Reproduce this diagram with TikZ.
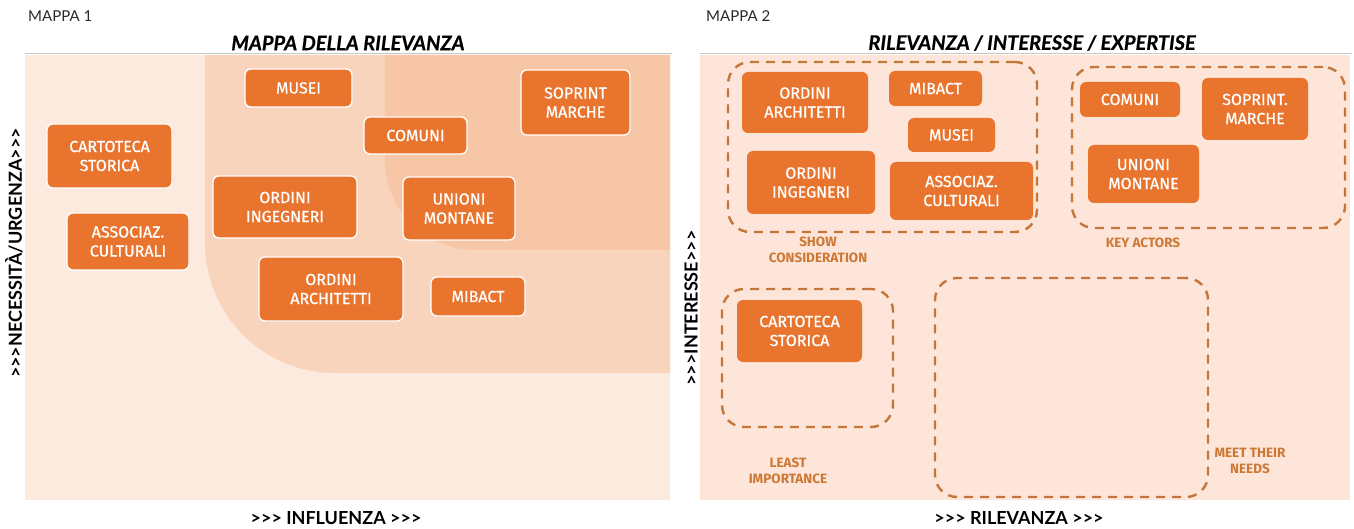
\documentclass[tikz,border=0pt]{standalone}
\usepackage{fontspec}
\setmainfont{Fira Sans}
\newfontfamily\headfont{Lato}
\newfontfamily\titlefont[FakeBold=0.6]{Lato}
\newfontfamily\actorfont[FakeBold=0.7]{Fira Sans}
\usetikzlibrary{positioning}
\definecolor{actorfill}{RGB}{233,116,46}
\definecolor{panelbg}{RGB}{253,230,217}
\definecolor{panellight}{RGB}{253,234,223}
\definecolor{panelmid}{RGB}{249,212,189}
\definecolor{paneldark}{RGB}{246,198,166}
\definecolor{grpline}{RGB}{196,118,58}
\definecolor{grptext}{RGB}{205,120,52}
\definecolor{rulegray}{RGB}{200,200,200}
\definecolor{inkgray}{RGB}{40,40,40}

\begin{document}
\begin{tikzpicture}[x=1pt,y=-1pt,
    actor/.style={draw=white,line width=1.3pt,fill=actorfill,rounded corners=6pt,text=white,align=center,inner sep=0pt,font=\actorfont\fontsize{16}{19}\selectfont},
    actorflat/.style={actor,draw=none},
    grpbox/.style={draw=grpline,line width=2.4pt,dash pattern=on 9pt off 7pt,rounded corners=22pt,inner sep=0pt},
    grplabel/.style={text=grptext,align=center,inner sep=0pt,font=\bfseries\fontsize{13.5}{16}\selectfont},
    maptitle/.style={inner sep=0pt,text=black,font=\titlefont\bfseries\itshape\fontsize{20}{22}\selectfont},
    mapno/.style={inner sep=0pt,anchor=west,text=inkgray,font=\headfont\fontsize{15}{17}\selectfont},
    axislabel/.style={inner sep=0pt,text=black,font=\headfont\bfseries\fontsize{18}{20}\selectfont}
]
\useasboundingbox (0,0) rectangle (1354,529);

% mappa 1
\fill[panellight] (25,55) rectangle (670,500);
\fill[panelmid] (205,55) -- (205,243) arc[start angle=180,end angle=90,radius=130] -- (670,373) -- (670,55) -- cycle;
\fill[paneldark] (385,55) -- (385,160) arc[start angle=180,end angle=90,radius=90] -- (670,250) -- (670,55) -- cycle;
\draw[rulegray,line width=1pt] (25,54) -- (672,54);
\node[mapno] (no1) at (28,16) {MAPPA 1};
\node[maptitle] (title1) at (348,43) {MAPPA DELLA RILEVANZA};
\node[axislabel,rotate=90] (yax1) at (14,253) {>{}>{}>NECESSITÀ/URGENZA>{}>{}>};
\node[axislabel] (xax1) at (336,518) {>{}>{}> INFLUENZA >{}>{}>};

\node[actor,minimum width=107,minimum height=38] (musei1) at (298.5,88) {MUSEI};
\node[actor,minimum width=109,minimum height=65] (soprint1) at (575.5,102.5) {SOPRINT\\MARCHE};
\node[actor,minimum width=103,minimum height=37] (comuni1) at (415.5,135.5) {COMUNI};
\node[actor,minimum width=125,minimum height=64] (carto1) at (109.5,156) {CARTOTECA\\STORICA};
\node[actor,minimum width=144,minimum height=62] (inge1) at (285,207) {ORDINI\\INGEGNERI};
\node[actor,minimum width=112,minimum height=63] (unioni1) at (459,208.5) {UNIONI\\MONTANE};
\node[actor,minimum width=122,minimum height=57] (assoc1) at (128,241.5) {ASSOCIAZ.\\CULTURALI};
\node[actor,minimum width=144,minimum height=64] (archi1) at (331,289) {ORDINI\\ARCHITETTI};
\node[actor,minimum width=94,minimum height=39] (mibact1) at (478,296.5) {MIBACT};

% mappa 2
\fill[panelbg] (700,55) rectangle (1350,500);
\draw[rulegray,line width=1pt] (700,54) -- (1352,54);
\node[mapno] (no2) at (706,16) {MAPPA 2};
\node[maptitle] (title2) at (1032,43) {RILEVANZA / INTERESSE / EXPERTISE};
\node[axislabel,rotate=90] (yax2) at (691,308) {>{}>{}>INTERESSE>{}>{}>};
\node[axislabel] (xax2) at (1019,518) {>{}>{}> RILEVANZA >{}>{}>};

\node[grpbox,minimum width=309,minimum height=170] (show) at (882.5,147) {};
\node[grpbox,minimum width=273,minimum height=161] (key) at (1208.5,147.5) {};
\node[grpbox,minimum width=171,minimum height=138] (least) at (807.5,358) {};
\node[grpbox,minimum width=273,minimum height=219] (meet) at (1071.5,387.5) {};
\node[grplabel] (showlab) at (818,250) {SHOW\\CONSIDERATION};
\node[grplabel] (keylab) at (1143,243) {KEY ACTORS};
\node[grplabel] (leastlab) at (788,471) {LEAST\\IMPORTANCE};
\node[grplabel] (meetlab) at (1250,461) {MEET THEIR\\NEEDS};

\node[actorflat,minimum width=126,minimum height=61] (archi2) at (805,102.5) {ORDINI\\ARCHITETTI};
\node[actorflat,minimum width=93,minimum height=35] (mibact2) at (935.5,88.5) {MIBACT};
\node[actorflat,minimum width=87,minimum height=34] (musei2) at (951.5,135) {MUSEI};
\node[actorflat,minimum width=128,minimum height=63] (inge2) at (811,182.5) {ORDINI\\INGEGNERI};
\node[actorflat,minimum width=143,minimum height=58] (assoc2) at (961.5,191) {ASSOCIAZ.\\CULTURALI};
\node[actorflat,minimum width=100,minimum height=35] (comuni2) at (1130,99.5) {COMUNI};
\node[actorflat,minimum width=106,minimum height=62] (soprint2) at (1255,109) {SOPRINT.\\MARCHE};
\node[actorflat,minimum width=111,minimum height=58] (unioni2) at (1143.5,174) {UNIONI\\MONTANE};
\node[actorflat,minimum width=125,minimum height=62] (carto2) at (799.5,331) {CARTOTECA\\STORICA};
\end{tikzpicture}
\end{document}
